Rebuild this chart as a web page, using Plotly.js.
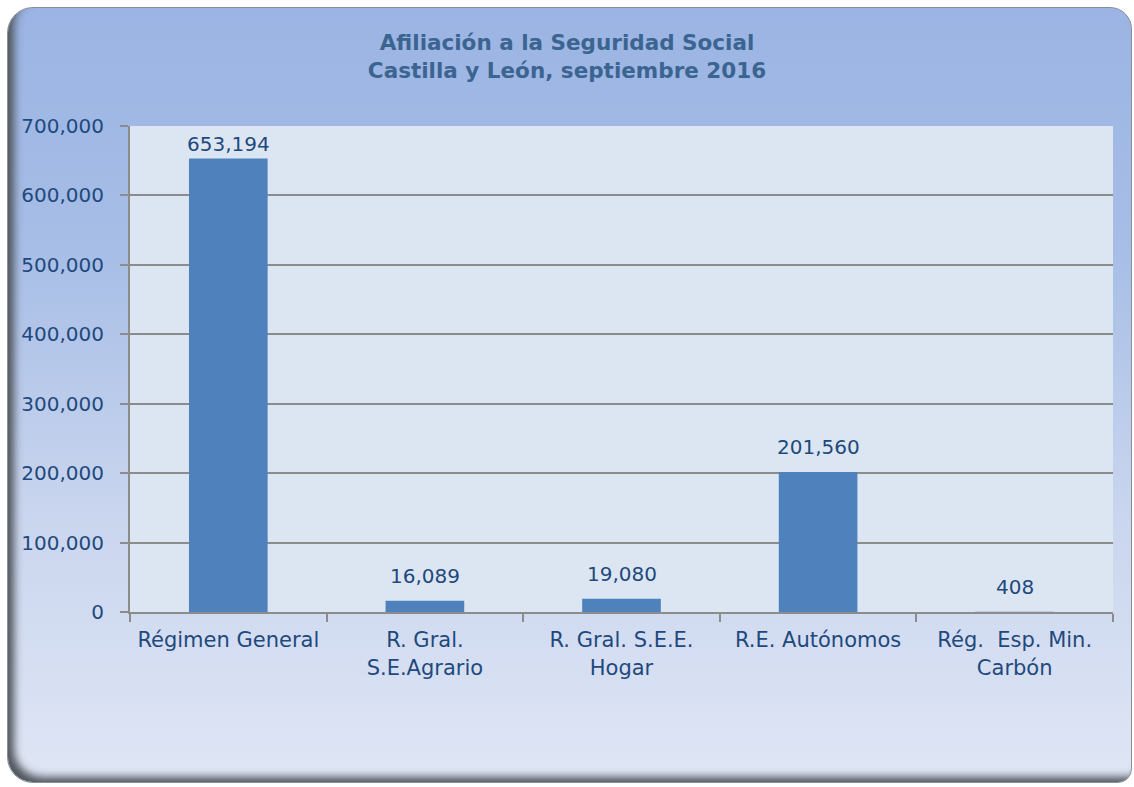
<!DOCTYPE html>
<html>
<head>
<meta charset="utf-8">
<script src="https://cdn.plot.ly/plotly-3.0.1.min.js"></script>
<style>
html,body{margin:0;padding:0;background:#ffffff;width:1134px;height:787px;overflow:hidden;}
#frame{position:absolute;left:7px;top:7px;width:1125px;height:776px;border-radius:26px 22px 14px 26px;
background:linear-gradient(to bottom,#9bb4e3 0%,#a6bde6 30%,#c9d5ee 65%,#dfe6f5 100%);
box-shadow:inset 9px -8px 8px -3px #50555c;border:1px solid #8a8f96;box-sizing:border-box;}
#chart{position:absolute;left:0;top:0;width:1134px;height:787px;}
</style>
</head>
<body>
<div id="frame"></div>
<div id="chart"></div>
<script>
const categories = ["Régimen General", "R. Gral.<br>S.E.Agrario", "R. Gral. S.E.E.<br>Hogar", "R.E. Autónomos", "Rég.  Esp. Min.<br>Carbón"];
const values = [653194, 16089, 19080, 201560, 408];
const valueLabels = ["653,194", "16,089", "19,080", "201,560", "408"];
const yTickValues = [0, 100000, 200000, 300000, 400000, 500000, 600000, 700000];
const yTickLabels = ["0", "100,000", "200,000", "300,000", "400,000", "500,000", "600,000", "700,000"];

const textColor = "#1f497d";
const fontFam = "DejaVu Sans, Verdana, sans-serif";

const H = 787, T = 126, B = 175;
const plotH = H - T - B;
const yMax = 700000;
// data labels: placed above bar, kept inside the plot area (like Excel)
const annotations = values.map((v, i) => {
  const distToTop = (yMax - v) / yMax * plotH;
  const shift = Math.min(25, distToTop - 18);
  return {
    x: categories[i], y: v, xref: "x", yref: "y",
    text: valueLabels[i], showarrow: false,
    xanchor: "center", yanchor: "middle", yshift: shift,
    font: {family: fontFam, size: 20, color: textColor}
  };
});

Plotly.newPlot("chart", [{
  type: "bar",
  x: categories,
  y: values,
  marker: {color: "#4f81bd"},
  hoverinfo: "none"
}], {
  width: 1134, height: H,
  paper_bgcolor: "rgba(0,0,0,0)",
  plot_bgcolor: "#dce6f2",
  margin: {l: 130, r: 21, t: T, b: B},
  bargap: 0.6,
  showlegend: false,
  annotations: annotations,
  title: {
    text: "<b>Afiliación a la Seguridad Social<br>Castilla y León, septiembre 2016</b>",
    x: 0.5, xanchor: "center", y: 0.936, yanchor: "top",
    font: {family: fontFam, size: 21.5, color: "#3b6491"}
  },
  xaxis: {
    tickson: "boundaries", ticks: "outside", ticklen: 8, tickwidth: 2, tickcolor: "#8c8c8c",
    showline: true, linecolor: "#8c8c8c", linewidth: 2,
    ticklabelstandoff: 8,
    tickfont: {family: fontFam, size: 21, color: textColor},
    showgrid: false, fixedrange: true
  },
  yaxis: {
    range: [0, yMax], tickvals: yTickValues, ticktext: yTickLabels,
    ticks: "outside", ticklen: 8, tickwidth: 2, tickcolor: "#8c8c8c",
    showline: true, linecolor: "#8c8c8c", linewidth: 2,
    showgrid: true, gridcolor: "#8c8c8c", gridwidth: 2,
    zeroline: false,
    ticklabelstandoff: 12,
    tickfont: {family: fontFam, size: 20, color: textColor},
    fixedrange: true
  }
}, {staticPlot: true});
</script>
</body>
</html>
